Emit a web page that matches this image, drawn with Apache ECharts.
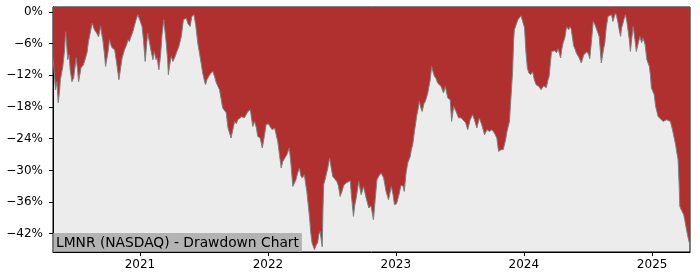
<!DOCTYPE html>
<html><head><meta charset="utf-8">
<script src="https://cdn.jsdelivr.net/npm/echarts@6/dist/echarts.min.js"></script>
<style>html,body{margin:0;padding:0;background:#fff}#c{width:700px;height:280px}</style>
</head><body><div id="c"></div>
<script>
const chartTitle = 'LMNR (NASDAQ) - Drawdown Chart';
const yTicks = [0, -6, -12, -18, -24, -30, -36, -42];
const xTicks = ['2021-01-01', '2022-01-01', '2023-01-01', '2024-01-01', '2025-01-01'];
const xTickLabels = ['2021', '2022', '2023', '2024', '2025'];

const dates2020 = ['2020-04-28','2020-05-02','2020-05-05','2020-05-09','2020-05-13','2020-05-17','2020-05-19','2020-05-26','2020-05-31','2020-06-03','2020-06-06','2020-06-09','2020-06-13','2020-06-16','2020-06-21','2020-06-26','2020-07-03','2020-07-07','2020-07-10','2020-07-17','2020-07-24','2020-07-30','2020-08-03','2020-08-07','2020-08-10','2020-08-15','2020-08-18','2020-08-22','2020-08-24','2020-08-30','2020-09-05','2020-09-11','2020-09-13','2020-09-17','2020-09-22','2020-09-25','2020-09-28','2020-10-02','2020-10-06','2020-10-11','2020-10-14','2020-10-21','2020-10-26','2020-11-02','2020-11-07','2020-11-11','2020-11-18','2020-11-24','2020-11-28','2020-12-02','2020-12-05','2020-12-11','2020-12-17','2020-12-21','2020-12-26'];
const dd2020 = [-8.66,-11.88,-14.72,-13.20,-17.18,-14.72,-12.82,-10.36,-7.14,-3.73,-6.19,-9.04,-8.09,-10.93,-13.20,-12.44,-8.66,-10.93,-13.20,-10.55,-9.98,-8.66,-7.71,-5.63,-4.68,-2.97,-2.08,-2.97,-3.35,-3.92,-4.68,-2.73,-3.73,-5.25,-8.09,-10.30,-10.55,-7.52,-5.25,-6.38,-6.82,-7.14,-9.41,-12.82,-10.55,-8.71,-7.14,-6.19,-5.25,-5.63,-4.87,-3.92,-2.41,-1.46,-0.51];

const dates2021 = ['2021-01-02','2021-01-07','2021-01-11','2021-01-16','2021-01-20','2021-01-23','2021-01-28','2021-02-02','2021-02-07','2021-02-11','2021-02-16','2021-02-19','2021-02-24','2021-03-01','2021-03-05','2021-03-10','2021-03-13','2021-03-17','2021-03-21','2021-03-23','2021-03-27','2021-03-31','2021-04-05','2021-04-10','2021-04-15','2021-04-22','2021-04-29','2021-05-05','2021-05-13','2021-05-18','2021-05-24','2021-05-29','2021-06-04','2021-06-09','2021-06-15','2021-06-23','2021-06-29','2021-07-04','2021-07-07','2021-07-11','2021-07-16','2021-07-21','2021-07-28','2021-08-02','2021-08-07','2021-08-11','2021-08-16','2021-08-25','2021-09-04','2021-09-09','2021-09-13','2021-09-18','2021-09-23','2021-09-28','2021-10-03','2021-10-07','2021-10-12','2021-10-18','2021-10-26','2021-11-05','2021-11-12','2021-11-15','2021-11-19','2021-11-24','2021-11-29','2021-12-03','2021-12-10','2021-12-16','2021-12-21','2021-12-27'];
const dd2021 = [-1.78,-2.73,-5.25,-9.36,-6.19,-3.98,-5.63,-7.46,-9.04,-7.52,-9.04,-8.66,-10.93,-8.09,-4.30,-1.46,-3.35,-5.87,-9.04,-11.88,-9.98,-8.41,-9.36,-8.66,-7.71,-6.52,-4.62,-1.46,-1.14,-2.22,-2.73,-0.83,-0.51,-2.41,-5.87,-9.04,-11.55,-13.01,-13.77,-12.82,-12.20,-11.69,-11.25,-12.25,-13.45,-13.77,-14.72,-18.18,-19.07,-21.92,-22.29,-23.87,-22.29,-20.72,-21.16,-20.40,-20.40,-19.83,-20.02,-18.83,-18.51,-20.02,-21.67,-20.72,-21.92,-23.56,-23.87,-25.76,-23.81,-21.35];

const dates2022 = ['2022-01-02','2022-01-05','2022-01-13','2022-01-20','2022-01-24','2022-01-29','2022-02-03','2022-02-08','2022-02-12','2022-02-17','2022-02-24','2022-03-03','2022-03-08','2022-03-13','2022-03-18','2022-03-22','2022-03-27','2022-04-01','2022-04-05','2022-04-09','2022-04-15','2022-04-19','2022-04-22','2022-04-26','2022-04-30','2022-05-03','2022-05-07','2022-05-14','2022-05-19','2022-05-23','2022-05-26','2022-05-30','2022-06-02','2022-06-05','2022-06-07','2022-06-09','2022-06-13','2022-06-16','2022-06-21','2022-06-26','2022-06-30','2022-07-05','2022-07-10','2022-07-17','2022-07-21','2022-07-26','2022-07-31','2022-08-05','2022-08-12','2022-08-17','2022-08-24','2022-08-27','2022-09-02','2022-09-06','2022-09-10','2022-09-17','2022-09-24','2022-10-01','2022-10-08','2022-10-16','2022-10-22','2022-10-29','2022-11-03','2022-11-08','2022-11-14','2022-11-20','2022-11-27','2022-12-04','2022-12-11','2022-12-19','2022-12-24','2022-12-28'];
const dd2022 = [-21.16,-21.02,-22.29,-21.97,-23.05,-24.51,-27.02,-29.55,-28.35,-28.30,-27.02,-25.76,-28.92,-33.03,-32.33,-31.76,-30.44,-29.55,-31.01,-31.44,-30.82,-32.71,-33.98,-36.50,-39.02,-41.61,-43.76,-45.02,-44.08,-43.70,-42.18,-41.56,-43.13,-44.46,-37.45,-32.71,-31.76,-31.44,-29.49,-27.66,-29.30,-31.14,-31.44,-32.14,-32.90,-34.93,-34.04,-32.90,-32.39,-32.14,-31.95,-34.61,-38.71,-36.50,-35.17,-32.09,-34.61,-33.09,-35.17,-37.12,-36.69,-39.34,-35.55,-31.76,-31.01,-30.50,-31.38,-33.98,-35.55,-33.03,-34.61,-36.50];

const dates2023 = ['2023-01-03','2023-01-11','2023-01-15','2023-01-21','2023-01-25','2023-01-30','2023-02-04','2023-02-11','2023-02-14','2023-02-18','2023-02-23','2023-03-02','2023-03-05','2023-03-09','2023-03-13','2023-03-17','2023-03-22','2023-03-26','2023-04-02','2023-04-09','2023-04-13','2023-04-17','2023-04-21','2023-04-26','2023-04-30','2023-05-05','2023-05-10','2023-05-17','2023-05-22','2023-05-29','2023-06-05','2023-06-09','2023-06-15','2023-06-22','2023-06-29','2023-07-06','2023-07-11','2023-07-19','2023-07-25','2023-08-01','2023-08-08','2023-08-13','2023-08-20','2023-08-27','2023-09-03','2023-09-11','2023-09-18','2023-09-25','2023-10-02','2023-10-09','2023-10-16','2023-10-21','2023-10-28','2023-11-03','2023-11-07','2023-11-10','2023-11-14','2023-11-21','2023-11-26','2023-11-30','2023-12-03','2023-12-05','2023-12-10','2023-12-15','2023-12-19','2023-12-24','2023-12-27','2023-12-30'];
const dd2023 = [-36.31,-34.28,-32.90,-32.90,-33.98,-30.50,-28.54,-27.35,-26.08,-25.14,-22.62,-19.45,-18.51,-16.93,-18.13,-18.83,-17.37,-16.93,-15.34,-12.82,-10.30,-11.31,-12.20,-12.63,-13.45,-13.58,-14.09,-15.34,-14.09,-16.29,-16.61,-20.72,-17.88,-18.88,-20.08,-20.02,-20.40,-20.97,-22.29,-20.40,-19.45,-20.40,-21.97,-20.08,-21.35,-23.24,-22.29,-22.62,-22.29,-22.92,-23.87,-26.40,-26.08,-26.08,-25.76,-24.19,-22.62,-20.72,-20.40,-11.25,-5.25,-3.35,-2.41,-1.46,-1.14,-0.70,-0.89,-2.08];

const dates2024 = ['2024-01-03','2024-01-07','2024-01-11','2024-01-15','2024-01-20','2024-01-26','2024-01-31','2024-02-05','2024-02-09','2024-02-14','2024-02-19','2024-02-22','2024-02-27','2024-03-05','2024-03-10','2024-03-13','2024-03-20','2024-03-25','2024-03-29','2024-04-03','2024-04-08','2024-04-15','2024-04-18','2024-04-22','2024-04-27','2024-05-02','2024-05-04','2024-05-08','2024-05-11','2024-05-15','2024-05-19','2024-05-22','2024-05-25','2024-05-30','2024-06-03','2024-06-07','2024-06-10','2024-06-13','2024-06-16','2024-06-20','2024-06-23','2024-06-29','2024-07-04','2024-07-07','2024-07-11','2024-07-17','2024-07-21','2024-07-26','2024-08-03','2024-08-06','2024-08-09','2024-08-15','2024-08-19','2024-08-23','2024-08-28','2024-09-02','2024-09-07','2024-09-11','2024-09-15','2024-09-19','2024-09-22','2024-09-26','2024-09-29','2024-10-03','2024-10-06','2024-10-10','2024-10-13','2024-10-17','2024-10-21','2024-10-24','2024-10-28','2024-10-31','2024-11-04','2024-11-08','2024-11-13','2024-11-17','2024-11-22','2024-11-27','2024-12-02','2024-12-06','2024-12-12','2024-12-17','2024-12-24','2024-12-27','2024-12-30'];
const dd2024 = [-2.97,-7.52,-10.55,-11.50,-11.88,-11.31,-12.82,-13.77,-13.77,-14.15,-14.72,-14.72,-13.96,-14.34,-12.82,-12.25,-7.46,-7.71,-7.33,-7.71,-6.95,-8.71,-7.14,-5.87,-4.87,-2.78,-2.41,-3.35,-2.78,-3.16,-3.35,-6.38,-6.82,-7.77,-8.09,-8.71,-9.04,-9.66,-9.41,-8.09,-7.90,-7.52,-8.09,-8.85,-6.19,-1.78,-2.22,-2.41,-4.62,-7.14,-9.66,-7.14,-5.87,-2.97,-0.83,-0.70,-0.51,-1.78,-0.89,-0.19,-0.89,-2.08,-3.35,-4.62,-2.97,-2.08,-1.27,-0.51,-1.84,-3.35,-5.25,-7.46,-4.87,-2.73,-5.25,-7.46,-6.00,-4.62,-5.81,-4.92,-6.19,-9.04,-10.30,-11.88,-14.40];

const dates2025 = ['2025-01-04','2025-01-07','2025-01-11','2025-01-18','2025-01-22','2025-01-27','2025-02-02','2025-02-06','2025-02-11','2025-02-15','2025-02-22','2025-02-28','2025-03-03','2025-03-06','2025-03-09','2025-03-12','2025-03-16','2025-03-19','2025-03-21','2025-03-25','2025-03-28','2025-04-01','2025-04-04','2025-04-07','2025-04-11','2025-04-13','2025-04-16','2025-04-19'];
const dd2025 = [-14.09,-15.66,-17.88,-19.77,-20.02,-20.40,-20.72,-20.72,-20.40,-20.08,-20.72,-22.29,-23.24,-24.19,-25.14,-26.46,-27.98,-32.71,-36.82,-37.45,-37.77,-38.39,-39.34,-40.48,-41.86,-42.56,-43.45,-44.08];

const dates = [].concat(dates2020, dates2021, dates2022, dates2023, dates2024, dates2025);
const drawdown = [].concat(dd2020, dd2021, dd2022, dd2023, dd2024, dd2025);

function ts(s) { const p = s.split('-').map(Number); return Date.UTC(p[0], p[1] - 1, p[2]); }
const seriesData = dates.map((d, i) => [ts(d), drawdown[i]]);
const xTickVals = xTicks.map(ts);
const font = 'DejaVu Sans';

const chart = echarts.init(document.getElementById('c'), null, { renderer: 'canvas' });
chart.setOption({
  animation: false,
  backgroundColor: '#ffffff',
  title: {
    text: chartTitle, left: 53, bottom: 28,
    padding: [3, 3, 1, 3],
    backgroundColor: 'rgba(160,160,160,0.75)',
    textStyle: { fontFamily: font, fontSize: 13.8, fontWeight: 'normal', color: '#000', lineHeight: 15 }
  },
  grid: { left: 53, right: 10, top: 7, bottom: 28, show: true, backgroundColor: '#ececec', borderColor: '#000', borderWidth: 1 },
  xAxis: {
    type: 'value', min: ts(dates[0]), max: ts(dates[dates.length - 1]),
    axisLine: { show: true, onZero: false, lineStyle: { color: '#000', width: 1 } },
    axisTick: { show: true, length: 4, customValues: xTickVals, lineStyle: { color: '#000' } },
    splitLine: { show: false },
    axisLabel: {
      customValues: xTickVals, color: '#000', fontFamily: font, fontSize: 12, margin: 7,
      formatter: function (v) { const i = xTickVals.indexOf(v); return i >= 0 ? xTickLabels[i] : ''; }
    }
  },
  yAxis: {
    type: 'value', min: -45.46, max: 0.95,
    axisLine: { show: true, lineStyle: { color: '#000', width: 1 } },
    axisTick: { show: true, length: 4, customValues: yTicks, lineStyle: { color: '#000' } },
    splitLine: { show: false },
    axisLabel: {
      customValues: yTicks, color: '#000', fontFamily: font, fontSize: 12, margin: 10,
      formatter: function (v) { return v === 0 ? '0%' : '\u2212' + Math.abs(v) + '%'; }
    }
  },
  series: [{
    type: 'line', data: seriesData, symbol: 'none', showSymbol: false,
    lineStyle: { color: '#7f7f7f', width: 1 },
    areaStyle: { color: '#b03030', opacity: 1, origin: 'end' },
    z: 2
  }]
});
</script>
</body></html>
